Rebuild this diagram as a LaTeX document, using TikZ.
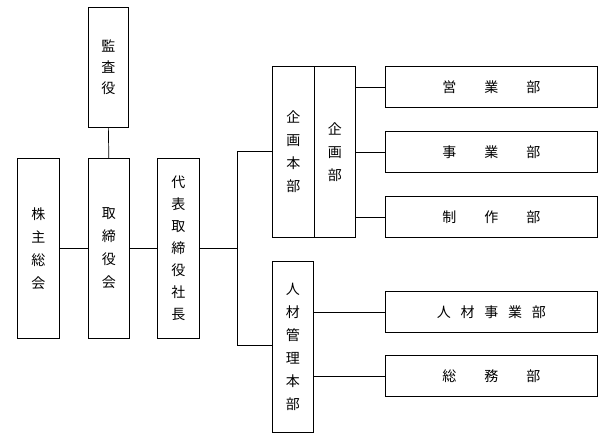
\documentclass[tikz,border=0pt]{standalone}
\usepackage{fontspec}
\setmainfont{Noto Sans CJK JP}
\usetikzlibrary{positioning}
\begin{document}
\begin{tikzpicture}[x=1pt,y=-1pt]
  \useasboundingbox (0,0) rectangle (608,442);
  \tikzset{BoxStyle/.style = {draw, line width = 0.7pt, inner sep = 0pt,
                              anchor = north west}}
  \tikzset{LinkStyle/.style = {line width = 0.7pt}}
  \newcommand{\orgbox}[6]{\node[BoxStyle, minimum width = #3, minimum height = #4] (#1) at #2 {};
    \node at (#1.center) [align=center, font=\fontsize{14}{#6}\selectfont] {#5};}
     \orgbox{audit}{(88,7)}{40}{120}{監\\査\\役}{21}
     \orgbox{share}{(17,158)}{42}{180}{株\\主\\総\\会}{23}
     \orgbox{board}{(88,158)}{41}{180}{取\\締\\役\\会}{23}
     \orgbox{ceo}{(157,158)}{42}{180}{代\\表\\取\\締\\役\\社\\長}{22}
     \orgbox{plan}{(272,66)}{42}{171}{企\\画\\本\\部}{23}
     \orgbox{plandep}{(314,66)}{41}{171}{企\\画\\部}{23}
     \orgbox{hr}{(272,261)}{41}{171}{人\\材\\管\\理\\本\\部}{23}
     \orgbox{sales}{(385,66)}{212}{41}{営\hspace{2em}業\hspace{2em}部}{17}
     \orgbox{biz}{(385,131)}{212}{41}{事\hspace{2em}業\hspace{2em}部}{17}
     \orgbox{prod}{(385,196)}{212}{41}{制\hspace{2em}作\hspace{2em}部}{17}
     \orgbox{hrbiz}{(385,291)}{212}{41}{人\hspace{0.7em}材\hspace{0.7em}事\hspace{0.7em}業\hspace{0.7em}部}{17}
     \orgbox{admin}{(385,355)}{212}{41}{総\hspace{2em}務\hspace{2em}部}{17}
     \coordinate (top) at (237,151);
     \coordinate (bot) at (237,345);
     \draw[LinkStyle] (audit.south) -- (board.north);
     \draw[LinkStyle] (share.east) -- (board.west);
     \draw[LinkStyle] (board.east) -- (ceo.west);
     \draw[LinkStyle] (ceo.east) -- (ceo.east -| top);
     \draw[LinkStyle] (plan.west |- top) -- (top) -- (bot) -- (hr.west |- bot);
     \draw[LinkStyle] (plandep.east |- sales.west) -- (sales.west);
     \draw[LinkStyle] (plandep.east |- biz.west) -- (biz.west);
     \draw[LinkStyle] (plandep.east |- prod.west) -- (prod.west);
     \draw[LinkStyle] (hr.east |- hrbiz.west) -- (hrbiz.west);
     \draw[LinkStyle] (hr.east |- admin.west) -- (admin.west);
\end{tikzpicture}
\end{document}
